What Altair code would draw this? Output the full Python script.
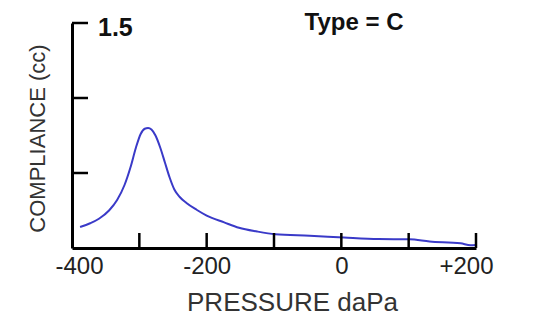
import altair as alt
import pandas as pd

# Tympanogram curve
pressure = [-388, -373, -360, -345, -333, -322, -313, -305, -298, -292, -287, -282,
            -276, -269, -262, -255, -248, -240, -230, -215, -200, -174, -152, -125,
            -98, -47, 4, 55, 101, 131, 177, 192, 200]
compliance = [0.14, 0.165, 0.195, 0.25, 0.32, 0.42, 0.54, 0.67, 0.76, 0.795, 0.80, 0.79,
              0.75, 0.67, 0.57, 0.47, 0.39, 0.34, 0.30, 0.255, 0.216, 0.171, 0.135, 0.11,
              0.092, 0.082, 0.07, 0.06, 0.058, 0.044, 0.031, 0.018, 0.02]

x_tick_values = [-300, -200, -100, 0, 100, 200]
x_label_values = [-400, -200, 0, 200]
y_tick_values = [0.5, 1.0, 1.5]
y_max_label = ["1.5"]
y_max_value = [1.5]
type_label = ["Type = C"]

FONT = "Liberation Sans"

curve_df = pd.DataFrame({"p": pressure, "c": compliance})
xt_df = pd.DataFrame({"p": x_tick_values})
yt_df = pd.DataFrame({"c": y_tick_values})
ylab_df = pd.DataFrame({"c": y_max_value, "t": y_max_label})
type_df = pd.DataFrame({"t": type_label})

xscale = alt.Scale(domain=[-400, 200], nice=False, zero=False)
yscale = alt.Scale(domain=[0, 1.5], nice=False)

xaxis = alt.Axis(
    values=x_label_values,
    labelExpr="datum.value > 0 ? '+' + datum.value : '' + datum.value",
    ticks=False, grid=False,
    domainColor="black", domainWidth=3,
    labelFont=FONT, labelFontSize=24, labelColor="#222222", labelPadding=6,
    labelFlush=True, labelFlushOffset=17,
    title="PRESSURE daPa", titleFont=FONT, titleFontSize=26, titleFontWeight="normal",
    titleColor="#333333", titleX=220, titleY=62, titleBaseline="alphabetic", titleAlign="center",
)
yaxis = alt.Axis(
    values=y_tick_values, labels=False, ticks=False, grid=False,
    domainColor="black", domainWidth=3,
    title="COMPLIANCE (cc)", titleFont=FONT, titleFontSize=22, titleFontWeight="normal",
    titleColor="#333333", titleX=-28, titleY=115, titleAngle=270,
    titleBaseline="alphabetic", titleAlign="center",
)

curve = alt.Chart(curve_df).mark_line(color="#3a3ac8", strokeWidth=2, interpolate="monotone").encode(
    x=alt.X("p:Q", scale=xscale, axis=xaxis),
    y=alt.Y("c:Q", scale=yscale, axis=yaxis),
)

xticks = alt.Chart(xt_df).mark_rule(color="black", strokeWidth=2.5).encode(
    x=alt.X("p:Q", scale=xscale),
    y=alt.value(210),
    y2=alt.value(225),
)

yticks = alt.Chart(yt_df).mark_rule(color="black", strokeWidth=2.5).encode(
    y=alt.Y("c:Q", scale=yscale),
    x=alt.value(0),
    x2=alt.value(16),
)

ylab = alt.Chart(ylab_df).mark_text(
    font=FONT, fontSize=25, fontWeight="bold", color="#111111",
    align="left", baseline="alphabetic", dy=13,
).encode(
    y=alt.Y("c:Q", scale=yscale),
    x=alt.value(26),
    text="t:N",
)

type_text = alt.Chart(type_df).mark_text(
    font=FONT, fontSize=24, fontWeight="bold", color="#111111",
    align="center", baseline="alphabetic",
).encode(
    x=alt.value(282),
    y=alt.value(7),
    text="t:N",
)

chart = alt.layer(curve, xticks, yticks, ylab, type_text).properties(
    width=404, height=225,
    autosize=alt.AutoSizeParams(type="none"),
    padding={"left": 64, "top": 15, "right": 55, "bottom": 69},
    background="white",
).configure_view(stroke=None)

chart.save("out.html", embed_options={"renderer": "svg", "actions": False})
